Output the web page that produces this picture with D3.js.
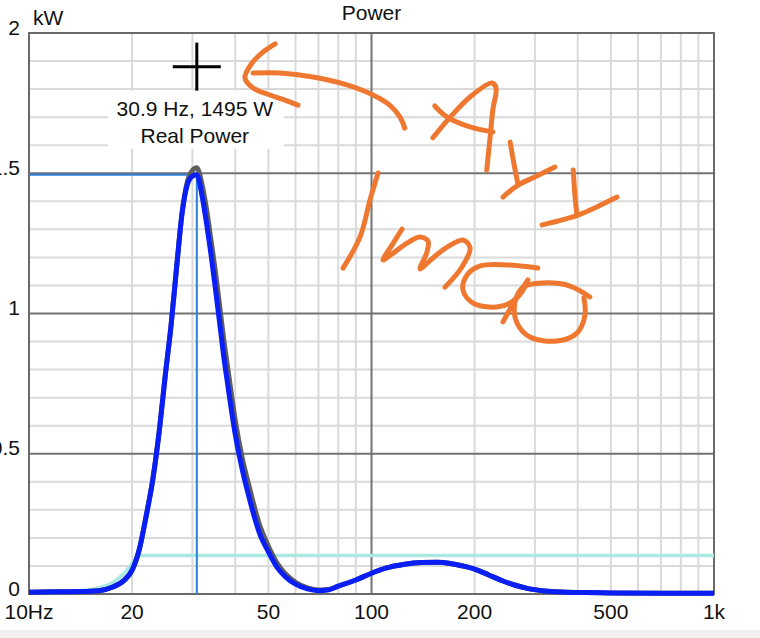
<!DOCTYPE html>
<html>
<head>
<meta charset="utf-8">
<script src="https://cdn.jsdelivr.net/npm/d3@7/dist/d3.min.js"></script>
<style>
  html, body { margin: 0; padding: 0; background: #ffffff; }
  svg { display: block; }
  text { font-family: "Liberation Sans", Arial, sans-serif; }
</style>
</head>
<body>
<svg id="chart" width="760" height="638"></svg>
<script>
// ---------- data ----------
const freqs = [10, 12, 14, 16, 17.5, 19, 20, 21, 22, 23, 24, 25, 26, 27, 28, 29, 30, 30.9, 32, 33, 34, 35, 36, 37, 38, 40, 42, 44, 47, 50, 53, 56, 60, 65, 70, 75, 80, 90, 100, 110, 125, 140, 155, 170, 185, 200, 220, 240, 260, 285, 320, 360, 420, 500, 700, 1000];
// Real Power (kW) - blue trace
const realPower = [0.006, 0.008, 0.009, 0.012, 0.024, 0.05, 0.085, 0.16, 0.28, 0.41, 0.58, 0.78, 0.96, 1.17, 1.36, 1.46, 1.49, 1.495, 1.42, 1.32, 1.21, 1.09, 0.97, 0.85, 0.75, 0.57, 0.44, 0.34, 0.22, 0.15, 0.095, 0.062, 0.035, 0.018, 0.012, 0.015, 0.028, 0.05, 0.074, 0.092, 0.106, 0.112, 0.113, 0.109, 0.100, 0.089, 0.068, 0.048, 0.033, 0.020, 0.011, 0.007, 0.005, 0.004, 0.003, 0.003];
// second (gray) trace behind the blue one
const grayPower = [0.006, 0.008, 0.009, 0.012, 0.024, 0.05, 0.085, 0.16, 0.28, 0.41, 0.58, 0.78, 0.96, 1.17, 1.36, 1.47, 1.51, 1.52, 1.46, 1.37, 1.26, 1.15, 1.03, 0.91, 0.81, 0.62, 0.48, 0.38, 0.25, 0.17, 0.11, 0.072, 0.042, 0.022, 0.014, 0.016, 0.028, 0.05, 0.074, 0.092, 0.106, 0.112, 0.113, 0.109, 0.100, 0.089, 0.068, 0.048, 0.033, 0.020, 0.011, 0.007, 0.005, 0.004, 0.003, 0.003];
// cyan reference trace
const cyanPower = [0.007, 0.009, 0.012, 0.022, 0.04, 0.075, 0.11, 0.137, 0.137, 0.137, 0.137, 0.137, 0.137, 0.137, 0.137, 0.137, 0.137, 0.137, 0.137, 0.137, 0.137, 0.137, 0.137, 0.137, 0.137, 0.137, 0.137, 0.137, 0.137, 0.137, 0.137, 0.137, 0.137, 0.137, 0.137, 0.137, 0.137, 0.137, 0.137, 0.137, 0.137, 0.137, 0.137, 0.137, 0.137, 0.137, 0.137, 0.137, 0.137, 0.137, 0.137, 0.137, 0.137, 0.137, 0.137, 0.137];

const yTicks = [0, 0.5, 1, 1.5, 2];
const yTickLabels = ["0", "0.5", "1", "1.5", "2"];
const yMinor = [0.1, 0.2, 0.3, 0.4, 0.6, 0.7, 0.8, 0.9, 1.1, 1.2, 1.3, 1.4, 1.6, 1.7, 1.8, 1.9];
const xTicks = [10, 20, 50, 100, 200, 500, 1000];
const xTickLabels = ["10Hz", "20", "50", "100", "200", "500", "1k"];
const xMinor = [20, 30, 40, 50, 60, 70, 80, 90, 200, 300, 400, 500, 600, 700, 800, 900];
const xMajor = [100];

const chartTitle = "Power";
const yUnit = "kW";
const readoutFreq = 30.9;     // Hz
const readoutPower = 1.495;   // kW
const readoutName = "Real Power";
const cursorPos = [30.9, 1.88]; // Hz, kW (mouse cursor)

// hand-drawn annotation strokes, [Hz, kW]
const arrowHead = [[52.3, 1.961], [47.9, 1.929], [44.8, 1.893], [42.7, 1.840], [45.1, 1.804], [50.5, 1.779], [55.9, 1.761], [61.0, 1.743]];
const arrowTail = [[45.1, 1.857], [54.0, 1.857], [67.5, 1.843], [84.8, 1.815], [101, 1.779], [113, 1.743], [121, 1.701], [125, 1.661]];
const letterA = [[151, 1.626], [170, 1.701], [194, 1.772], [225, 1.822], [231, 1.804], [226, 1.725], [222, 1.629], [217, 1.512]];
const letterABar = [[153, 1.740], [166, 1.701], [194, 1.665], [226, 1.647]];
const letterY1a = [[254, 1.611], [260, 1.540], [268, 1.458]];
const letterY1b = [[343, 1.522], [304, 1.490], [268, 1.458], [242, 1.415]];
const letterY2a = [[388, 1.512], [393, 1.415], [398, 1.351]];
const letterY2b = [[521, 1.415], [455, 1.380], [401, 1.351], [315, 1.316]];
const letterL = [[104.5, 1.501], [99.0, 1.405], [92.6, 1.273], [82.6, 1.162]];
const letterM = [[122.8, 1.301], [114.8, 1.244], [108.0, 1.191], [114.8, 1.212], [126.9, 1.251], [138.6, 1.273], [146.2, 1.258], [145.2, 1.219], [138.6, 1.159], [151.2, 1.198], [165.0, 1.234], [185.0, 1.262], [194.0, 1.234], [183.7, 1.166], [163.9, 1.094]];
const letterAlpha = [[306, 1.162], [249, 1.173], [207, 1.169], [190, 1.137], [185, 1.084], [198, 1.037], [232, 1.023], [257, 1.041], [275, 1.077], [286, 1.119]];
const letterAlphaTail = [[286, 1.119], [266, 1.059], [242, 0.970]];
const letterO = [[434, 1.059], [380, 1.098], [317, 1.109], [277, 1.094], [262, 1.037], [266, 0.966], [290, 0.916], [348, 0.902], [398, 0.930], [420, 0.995], [417, 1.055]];
const annotationStrokes = [arrowHead, arrowTail, letterA, letterABar, letterY1a, letterY1b, letterY2a, letterY2b, letterL, letterM, letterAlpha, letterAlphaTail, letterO];

// ---------- chart ----------
const svg = d3.select("#chart");
const W = 760, H = 638;
const plot = { left: 29, right: 714, top: 33, bottom: 594 };

const x = d3.scaleLog().domain([10, 1000]).range([plot.left, plot.right]);
const y = d3.scaleLinear().domain([0, 2]).range([plot.bottom, plot.top]);

svg.append("rect").attr("x", 0).attr("y", 0).attr("width", W).attr("height", H).attr("fill", "#ffffff");
svg.append("rect").attr("x", 0).attr("y", 630).attr("width", W).attr("height", 8).attr("fill", "#f0f0f0");

const minorColor = "#dadada", majorColor = "#737373";
const grid = svg.append("g");
grid.selectAll("line.ym").data(yMinor).join("line")
  .attr("x1", plot.left).attr("x2", plot.right)
  .attr("y1", d => y(d)).attr("y2", d => y(d))
  .attr("stroke", minorColor).attr("stroke-width", 2);
grid.selectAll("line.xm").data(xMinor).join("line")
  .attr("y1", plot.top).attr("y2", plot.bottom)
  .attr("x1", d => x(d)).attr("x2", d => x(d))
  .attr("stroke", minorColor).attr("stroke-width", 2);
grid.selectAll("line.yM").data(yTicks.filter(d => d > 0 && d < 2)).join("line")
  .attr("x1", plot.left).attr("x2", plot.right)
  .attr("y1", d => y(d)).attr("y2", d => y(d))
  .attr("stroke", majorColor).attr("stroke-width", 2);
grid.selectAll("line.xM").data(xMajor).join("line")
  .attr("y1", plot.top).attr("y2", plot.bottom)
  .attr("x1", d => x(d)).attr("x2", d => x(d))
  .attr("stroke", majorColor).attr("stroke-width", 2);

// frame
svg.append("rect")
  .attr("x", plot.left).attr("y", plot.top)
  .attr("width", plot.right - plot.left).attr("height", plot.bottom - plot.top)
  .attr("fill", "none").attr("stroke", "#6a6a6a").attr("stroke-width", 2);

// axis labels
const fontSize = 21;
svg.append("g").selectAll("text").data(yTicks).join("text")
  .attr("x", 20).attr("y", d => y(d) - 4)
  .attr("text-anchor", "end").attr("dominant-baseline", "middle")
  .attr("font-size", fontSize).attr("fill", "#111")
  .text((d, i) => yTickLabels[i]);
svg.append("g").selectAll("text").data(xTicks).join("text")
  .attr("x", d => x(d)).attr("y", 619)
  .attr("text-anchor", "middle")
  .attr("font-size", fontSize).attr("fill", "#111")
  .text((d, i) => xTickLabels[i]);
svg.append("text").attr("x", 33).attr("y", 25).attr("font-size", fontSize).attr("fill", "#111").text(yUnit);
svg.append("text").attr("x", (plot.left + plot.right) / 2).attr("y", 20)
  .attr("text-anchor", "middle").attr("font-size", fontSize).attr("fill", "#111").text(chartTitle);

// traces
const line = arr => d3.line()
  .x((d, i) => x(freqs[i]))
  .y(d => y(d))
  .curve(d3.curveMonotoneX)(arr);

svg.append("path").attr("d", line(cyanPower))
  .attr("fill", "none").attr("stroke", "#a9e9e1").attr("stroke-width", 3.5);

// readout crosshair lines
const rx = x(readoutFreq), ry = y(readoutPower);
svg.append("line").attr("x1", plot.left).attr("x2", rx).attr("y1", ry).attr("y2", ry)
  .attr("stroke", "#2c7fd6").attr("stroke-width", 2);
svg.append("line").attr("x1", rx).attr("x2", rx).attr("y1", ry).attr("y2", plot.bottom)
  .attr("stroke", "#2c7fd6").attr("stroke-width", 2);

svg.append("path").attr("d", line(grayPower))
  .attr("fill", "none").attr("stroke", "#5e5e5e").attr("stroke-width", 5).attr("stroke-linejoin", "round");
svg.append("path").attr("d", line(realPower))
  .attr("fill", "none").attr("stroke", "#0a1ef6").attr("stroke-width", 5).attr("stroke-linejoin", "round");
// keep crosshair visible over the trace
svg.append("line").attr("x1", rx).attr("x2", rx).attr("y1", ry + 4).attr("y2", plot.bottom)
  .attr("stroke", "#2c7fd6").attr("stroke-width", 2).attr("opacity", 0.0);

// readout box + cursor
const cx = x(cursorPos[0]), cy = y(cursorPos[1]);
svg.append("rect").attr("x", cx - 89).attr("y", cy + 24).attr("width", 176).attr("height", 58).attr("fill", "#ffffff");
svg.append("text").attr("x", cx - 2).attr("y", cy + 49).attr("text-anchor", "middle")
  .attr("font-size", fontSize).attr("fill", "#111")
  .text(`${readoutFreq} Hz, ${Math.round(readoutPower * 1000)} W`);
svg.append("text").attr("x", cx - 2).attr("y", cy + 76).attr("text-anchor", "middle")
  .attr("font-size", fontSize).attr("fill", "#111").text(readoutName);
svg.append("line").attr("x1", cx - 24).attr("x2", cx + 24).attr("y1", cy).attr("y2", cy)
  .attr("stroke", "#000").attr("stroke-width", 3);
svg.append("line").attr("x1", cx).attr("x2", cx).attr("y1", cy - 24).attr("y2", cy + 24)
  .attr("stroke", "#000").attr("stroke-width", 3);

// hand-drawn annotation
const strokeLine = d3.line().x(d => x(d[0])).y(d => y(d[1])).curve(d3.curveCatmullRom.alpha(0.5));
svg.append("g").selectAll("path").data(annotationStrokes).join("path")
  .attr("d", d => strokeLine(d))
  .attr("fill", "none").attr("stroke", "#ef7831").attr("stroke-width", 5)
  .attr("stroke-linecap", "round").attr("stroke-linejoin", "round");
</script>
</body>
</html>
